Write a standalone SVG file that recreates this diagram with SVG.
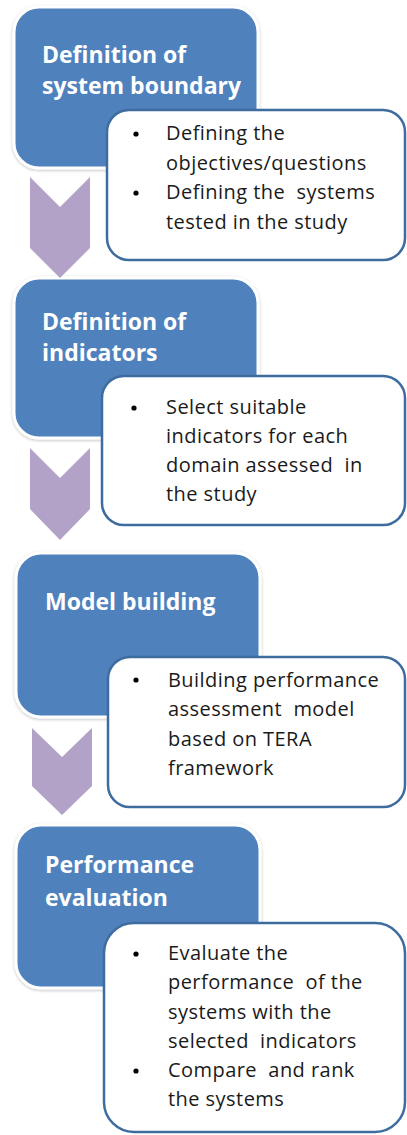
<svg xmlns="http://www.w3.org/2000/svg" width="407" height="1135" viewBox="0 0 407 1135">
  <defs>
    <filter id="soft" x="-10%" y="-10%" width="120%" height="120%">
      <feDropShadow dx="0" dy="1" stdDeviation="1.5" flood-color="#000000" flood-opacity="0.25"/>
    </filter>
    <style>
      .step { fill: #4F81BD; stroke: #FFFFFF; stroke-width: 3; filter: url(#soft); }
      .note { fill: #FFFFFF; stroke: #3E6C9E; stroke-width: 2.5; }
      .arrow { fill: #B2A2C8; }
      .title { font-family: "Open Sans", "Liberation Sans", sans-serif; font-weight: 700; font-size: 23px; fill: #FFFFFF; }
      .body { font-family: "Open Sans", "Liberation Sans", sans-serif; font-size: 20px; letter-spacing: 0.45px; fill: #1A1A1A; white-space: pre; }
      .dot { fill: #000000; }
    </style>
  </defs>

  <rect width="407" height="1135" fill="#FFFFFF"/>

  <!-- step boxes -->
  <g id="step1"><rect class="step" x="14" y="7" width="244" height="161" rx="25"/>
    <text class="title" x="42" y="63">Definition of</text>
    <text class="title" x="42" y="94">system boundary</text></g>
  <g id="step2"><rect class="step" x="14" y="278" width="244" height="160" rx="25"/>
    <text class="title" x="42" y="330">Definition of</text>
    <text class="title" x="42" y="361">indicators</text></g>
  <g id="step3"><rect class="step" x="16" y="553" width="244" height="164" rx="25"/>
    <text class="title" x="45" y="610">Model building</text></g>
  <g id="step4"><rect class="step" x="16" y="825" width="244" height="163" rx="25"/>
    <text class="title" x="45" y="873">Performance</text>
    <text class="title" x="45" y="906">evaluation</text></g>

  <!-- chevron connectors -->
  <g id="connectors">
    <polygon class="arrow" points="30,177 60,207 90,177 90,248 60,278 30,248"/>
    <polygon class="arrow" points="30,448 60,478 90,448 90,509 60,540 30,509"/>
    <polygon class="arrow" points="32,728 62,757 92,728 92,786 62,815 32,786"/>
  </g>

  <!-- detail notes -->
  <g id="note1"><rect class="note" x="107" y="110" width="298" height="150" rx="22"/>
    <circle class="dot" cx="136" cy="134" r="2.6"/>
    <circle class="dot" cx="136" cy="193" r="2.6"/>
    <text class="body" x="166" y="140">Defining the</text>
    <text class="body" x="166" y="170">objectives/questions</text>
    <text class="body" x="166" y="199" xml:space="preserve">Defining the  systems</text>
    <text class="body" x="166" y="229">tested in the study</text></g>
  <g id="note2"><rect class="note" x="102" y="376" width="303" height="149" rx="22"/>
    <circle class="dot" cx="134" cy="408" r="2.6"/>
    <text class="body" x="166" y="414">Select suitable</text>
    <text class="body" x="166" y="443">indicators for each</text>
    <text class="body" x="166" y="472" xml:space="preserve">domain assessed  in</text>
    <text class="body" x="166" y="501">the study</text></g>
  <g id="note3"><rect class="note" x="108" y="657" width="297" height="150" rx="22"/>
    <circle class="dot" cx="136" cy="680" r="2.6"/>
    <text class="body" x="168" y="687">Building performance</text>
    <text class="body" x="168" y="716" xml:space="preserve">assessment  model</text>
    <text class="body" x="168" y="746">based on TERA</text>
    <text class="body" x="168" y="775">framework</text></g>
  <g id="note4"><rect class="note" x="104" y="923" width="301" height="209" rx="30"/>
    <circle class="dot" cx="136" cy="954" r="2.6"/>
    <circle class="dot" cx="136" cy="1071" r="2.6"/>
    <text class="body" x="168" y="960">Evaluate the</text>
    <text class="body" x="168" y="989" xml:space="preserve">performance  of the</text>
    <text class="body" x="168" y="1019">systems with the</text>
    <text class="body" x="168" y="1048" xml:space="preserve">selected  indicators</text>
    <text class="body" x="168" y="1077" xml:space="preserve">Compare  and rank</text>
    <text class="body" x="168" y="1106">the systems</text></g>
</svg>
